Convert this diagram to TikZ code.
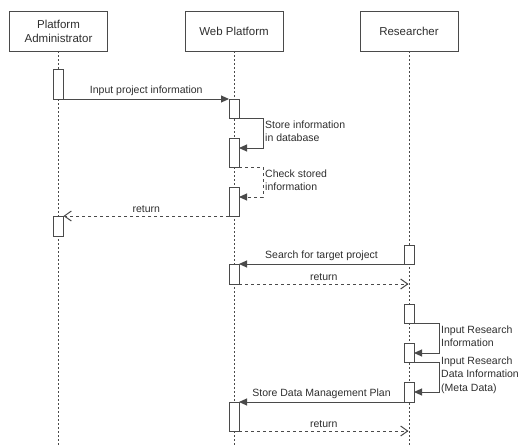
\documentclass[tikz,border=0pt]{standalone}
\usepackage{fontspec}
\setmainfont{Liberation Sans}
\usetikzlibrary{arrows.meta,calc}
\definecolor{ln}{HTML}{4A4A4A}
\definecolor{tx}{HTML}{2E2E2E}
\begin{document}
\begin{tikzpicture}[x=1pt,y=-1pt,
  head/.style={draw=ln,line width=1pt,minimum width=98pt,minimum height=40pt,inner sep=0pt,outer sep=0pt,align=center,text=tx,font=\fontsize{11.5}{14}\selectfont},
  life/.style={draw=ln,line width=1pt,dash pattern=on 2pt off 2pt},
  act/.style={draw=ln,fill=white,line width=1pt,minimum width=10pt,inner sep=0pt,outer sep=0pt},
  msg/.style={draw=ln,line width=1pt,-{Triangle[length=8pt,width=7pt]}},
  ret/.style={draw=ln,line width=1pt,dash pattern=on 3pt off 3pt,-{Straight Barb[length=7pt,width=10pt]}},
  lbl/.style={text=tx,font=\fontsize{10.5}{13.5}\selectfont,inner sep=1pt},
  side/.style={lbl,anchor=west,align=left}]
\useasboundingbox (0,0) rectangle (522,447);
% headers
\node[head] (pa) at (58.5,31) {Platform\\Administrator};
\node[head] (wp) at (234,31) {Web Platform};
\node[head] (rs) at (409,31) {Researcher};
\coordinate (paend) at (58.5,447);
\coordinate (wpend) at (234,447);
\coordinate (rsend) at (409,447);
\draw[life] (pa.south) -- (paend);
\draw[life] (wp.south) -- (wpend);
\draw[life] (rs.south) -- (rsend);
% activations
\node[act,minimum height=30pt] (a1) at (58.5,84) {};
\node[act,minimum height=20pt] (a2) at (58.5,226) {};
\node[act,minimum height=19pt] (b1) at (234,108.5) {};
\node[act,minimum height=29pt] (b2) at (234,152.5) {};
\node[act,minimum height=29pt] (b3) at (234,201.5) {};
\node[act,minimum height=20pt] (b4) at (234,274) {};
\node[act,minimum height=29pt] (b5) at (234,416.5) {};
\node[act,minimum height=19pt] (r1) at (409,254.5) {};
\node[act,minimum height=19pt] (r2) at (409,313.5) {};
\node[act,minimum height=19pt] (r3) at (409,352.5) {};
\node[act,minimum height=20pt] (r4) at (409,392) {};
\coordinate (rret1) at (408.5,284);
\coordinate (rret2) at (408.5,431);
% messages
\draw[msg] (a1.south east) -- node[lbl,above=2pt] (t1) {Input project information} (b1.north west);
\draw[msg] (b1.south east) -- ++(24,0) |- ([yshift=-10pt]b2.north east);
\node[side] (t2) at (264,131) {Store information\\in database};
\draw[msg,dash pattern=on 3pt off 3pt] (b2.south east) -- ++(24,0) |- ([yshift=-10pt]b3.north east);
\node[side] (t3) at (264,180) {Check stored\\information};
\draw[ret] (b3.south west) -- node[lbl,above=2pt] (t4) {return} (a2.north east);
\draw[msg] (r1.south west) -- node[lbl,above=2pt] (t5) {Search for target project} (b4.north east);
\draw[ret] (b4.south east) -- node[lbl,above=2pt] (t6) {return} (rret1);
\draw[msg] (r2.south east) -- ++(25,0) |- ([yshift=-10pt]r3.north east);
\node[side] (t7) at (440,336) {Input Research\\Information};
\draw[msg] (r3.south east) -- ++(25,0) |- ([yshift=-10pt]r4.north east);
\node[side] (t8) at (440,375) {Input Research\\Data Information\\(Meta Data)};
\draw[msg] (r4.south west) -- node[lbl,above=2pt] (t9) {Store Data Management Plan} (b5.north east);
\draw[ret] (b5.south east) -- node[lbl,above=2pt] (t10) {return} (rret2);
\end{tikzpicture}
\end{document}
